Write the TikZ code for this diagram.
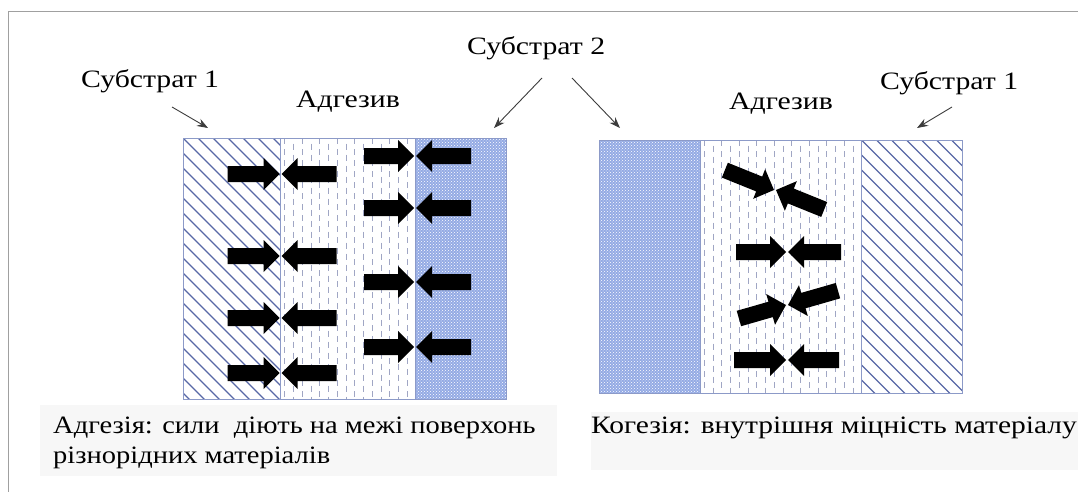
\documentclass[tikz,border=0pt]{standalone}
\usepackage{fontspec}
\setmainfont{Liberation Serif}
\newfontfamily\tnrl[FakeStretch=1.19]{Liberation Serif}
\newfontfamily\tnra[FakeStretch=1.14]{Liberation Serif}
\newfontfamily\tnrb[FakeStretch=1.18]{Liberation Serif}
\usetikzlibrary{patterns,arrows.meta}
\definecolor{hatchc}{RGB}{88,104,166}
\definecolor{dashc}{RGB}{160,166,196}
\definecolor{edgec}{RGB}{140,154,200}
\definecolor{subtwo}{RGB}{148,170,228}
\definecolor{framec}{RGB}{160,160,160}
\definecolor{labarr}{RGB}{60,60,60}
\definecolor{boxc}{RGB}{247,247,247}
\tikzset{
  hatchline/.style={draw=hatchc, line width=1.3pt},
  dashline/.style={draw=dashc, line width=1pt, dash pattern=on 6pt off 5pt},
  panel/.style={draw=edgec, line width=1pt},
  labelarrow/.style={draw=labarr, line width=0.9pt, -{Stealth[length=11pt,width=8pt]}},
  lbl/.style={inner sep=0pt, anchor=base west, font=\tnrl\fontsize{25}{30}\selectfont},
  captionL/.style={inner sep=0pt, anchor=base west, font=\tnra\fontsize{25}{30}\selectfont},
  captionR/.style={inner sep=0pt, anchor=base west, font=\tnrb\fontsize{25}{30}\selectfont},
  textbox/.style={fill=boxc, draw=none}
}
\newcommand\myhatch[4]{%
  \begin{scope}
    \clip (#1,#2) rectangle (#3,#4);
    \foreach \k in {-19,...,8}{\draw[hatchline] ({#1+\k*15},#2) -- ++(280,280);}
  \end{scope}}
\newcommand\mydashes[5]{%
  \begin{scope}
    \clip (#1,#2) rectangle (#3,#4);
    \foreach \i in {0,...,#5}{%
      \pgfmathsetmacro\xx{#1+4.4+\i*8.75}%
      \pgfmathsetmacro\yy{#2-mod(\i,2)*5.5}%
      \draw[dashline] (\xx,\yy) -- (\xx,#4);}
  \end{scope}}
\newcommand\mydots[4]{%
  \fill[subtwo] (#1,#2) rectangle (#3,#4);
  \fill[pattern=crosshatch dots, pattern color=white] (#1,#2) rectangle (#3,#4);}
\newcommand\myarr[4]{%
  \fill[black, shift={(#1,#2)}, rotate=#3] (0,0) -- (-16,16) -- (-16,8) -- (-#4,8) -- (-#4,-8) -- (-16,-8) -- (-16,-16) -- cycle;}
\begin{document}
\begin{tikzpicture}[x=1pt,y=-1pt]
\useasboundingbox (0,0) rectangle (1078,492);
% frame
\draw[framec, line width=1.6pt] (8.5,492) -- (8.5,11.5) -- (1078,11.5);
% caption boxes
\fill[textbox] (40,405) rectangle (557,476);
\fill[textbox] (591,412) rectangle (1078,470);

% ---- left panel ----
\myhatch{183}{138}{280.5}{399}
\mydashes{280.5}{138}{415}{399}{15}
\mydots{415}{138}{506}{399}
\draw[panel] (183,138) rectangle (506,399);
\draw[panel] (280.5,138) -- (280.5,399);
\draw[panel] (415,138) -- (415,399);
\foreach \yy in {174,256,318,373}{
  \myarr{279.5}{\yy}{0}{52}
  \myarr{281.5}{\yy}{180}{55}}
\foreach \yy in {156,208,282,347}{
  \myarr{414}{\yy}{0}{50}
  \myarr{416}{\yy}{180}{55}}

% ---- right panel ----
\mydots{599}{140}{700}{393}
\mydashes{700}{140}{861.5}{393}{18}
\myhatch{861.5}{140}{962}{393}
\draw[panel] (599,140) rectangle (962,393);
\draw[panel] (700,140) -- (700,393);
\draw[panel] (861.5,140) -- (861.5,393);
\myarr{774}{190}{-22}{53}
\myarr{776}{190}{158}{52}
\myarr{786}{252}{0}{50}
\myarr{788}{252}{180}{53}
\myarr{786}{305}{16}{49}
\myarr{788}{305}{196}{52}
\myarr{786}{360}{0}{52}
\myarr{788}{360}{180}{51}

% ---- labels ----
\node[lbl] (s1L) at (81,88) {Субстрат 1};
\node[lbl] (adL) at (296,107) {Адгезив};
\node[lbl] (s2) at (467,55) {Субстрат 2};
\node[lbl] (adR) at (729,110) {Адгезив};
\node[lbl] (s1R) at (880,90) {Субстрат 1};
\coordinate (a1s) at (172,107); \coordinate (a1e) at (208,128);
\coordinate (a2s) at (542,78);  \coordinate (a2e) at (494,128);
\coordinate (a3s) at (572,78);  \coordinate (a3e) at (620,128);
\coordinate (a4s) at (952,107); \coordinate (a4e) at (917,128);
\draw[labelarrow] (a1s) -- (a1e);
\draw[labelarrow] (a2s) -- (a2e);
\draw[labelarrow] (a3s) -- (a3e);
\draw[labelarrow] (a4s) -- (a4e);

% ---- captions ----
\node[captionL] (capL1) at (53,433) {Адгезія: сили\ \ діють на межі поверхонь};
\node[captionL] (capL2) at (53,463) {різнорідних матеріалів};
\node[captionR] (capR) at (591,433) {Когезія: внутрішня міцність матеріалу};
\end{tikzpicture}
\end{document}
